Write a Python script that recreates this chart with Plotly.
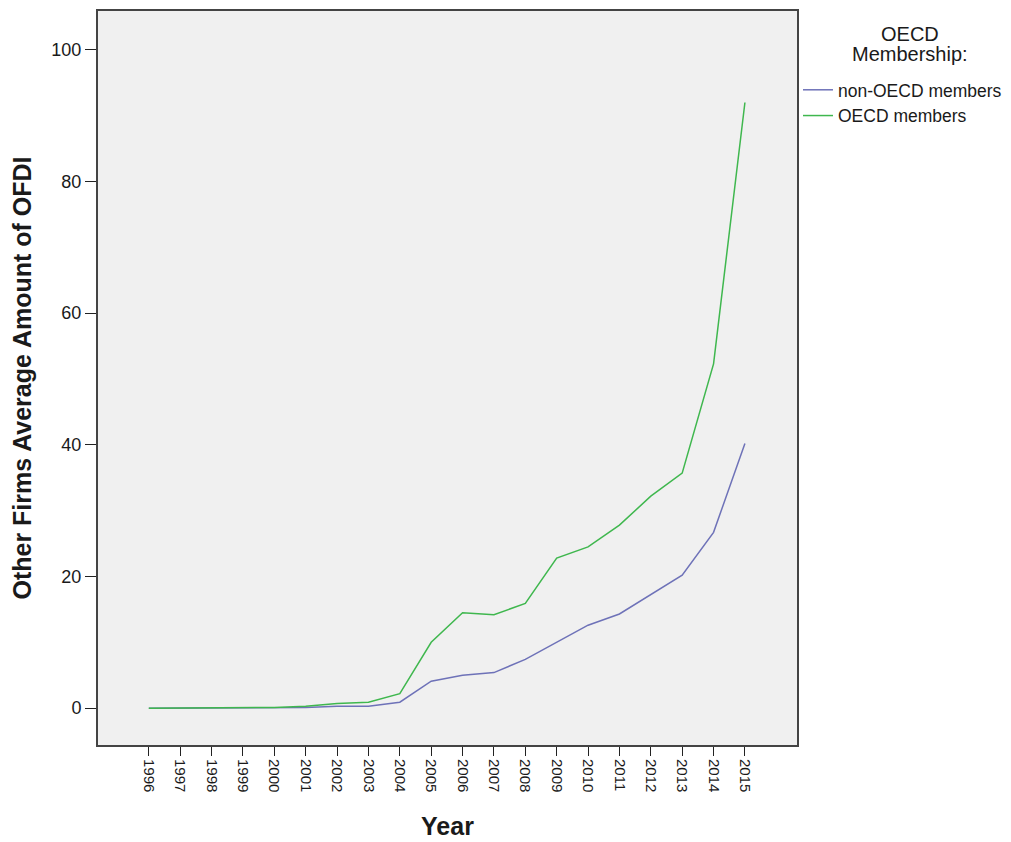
import plotly.graph_objects as go

years = [str(y) for y in range(1996, 2016)]
non_oecd = [0.0, 0.0, 0.0, 0.0, 0.0, 0.1, 0.3, 0.3, 0.9, 4.1, 5.0, 5.4, 7.4, 10.0, 12.6, 14.3, 17.2, 20.2, 26.7, 40.2]
oecd = [0.0, 0.0, 0.1, 0.1, 0.1, 0.3, 0.7, 0.9, 2.2, 10.0, 14.5, 14.2, 15.9, 22.8, 24.5, 27.8, 32.2, 35.7, 52.3, 92.0]
y_ticks = [0, 20, 40, 60, 80, 100]

FONT = "Arial, Liberation Sans, sans-serif"
TXT = "#1a1a1a"

fig = go.Figure()
fig.add_trace(go.Scatter(x=years, y=non_oecd, mode="lines", name="non-OECD members",
                         line=dict(color="#6E72B8", width=1.5)))
fig.add_trace(go.Scatter(x=years, y=oecd, mode="lines", name="OECD members",
                         line=dict(color="#3FB74E", width=1.5)))

fig.update_layout(
    width=1011, height=842,
    margin=dict(l=90, r=222, t=1, b=105),
    paper_bgcolor="white",
    plot_bgcolor="#F0F0F0",
    font=dict(family=FONT, size=15, color=TXT),
    showlegend=True,
    legend=dict(x=1.0014, xanchor="left", y=0.917, yanchor="top",
                bgcolor="rgba(0,0,0,0)", font=dict(size=17.5, color=TXT),
                itemwidth=30, tracegroupgap=0),
    annotations=[
        dict(text="OECD", x=1.162, y=0.969, xref="paper", yref="paper",
             xanchor="center", yanchor="middle", showarrow=False,
             font=dict(size=20, color=TXT, family=FONT)),
        dict(text="Membership:", x=1.162, y=0.942, xref="paper", yref="paper",
             xanchor="center", yanchor="middle", showarrow=False,
             font=dict(size=20, color=TXT, family=FONT)),
    ],
)

fig.update_xaxes(
    type="category", range=[-1.62, 20.66],
    tickangle=90, ticks="outside", ticklen=9, tickcolor="#222222",
    showline=True, linecolor="#444444", linewidth=2, mirror=True,
    showgrid=False, zeroline=False,
    tickfont=dict(size=15, color=TXT),
    title=dict(text="<b>Year</b>", font=dict(size=25, color=TXT), standoff=26),
)
fig.update_yaxes(
    range=[-5.6, 105.9], tickvals=y_ticks,
    ticks="outside", ticklen=11, tickcolor="#222222",
    showline=True, linecolor="#444444", linewidth=2, mirror=True,
    showgrid=False, zeroline=False,
    tickfont=dict(size=18, color=TXT),
    title=dict(text="<b>Other Firms Average Amount of OFDI</b>", font=dict(size=25, color=TXT), standoff=14),
)

fig.write_html("out.html")
